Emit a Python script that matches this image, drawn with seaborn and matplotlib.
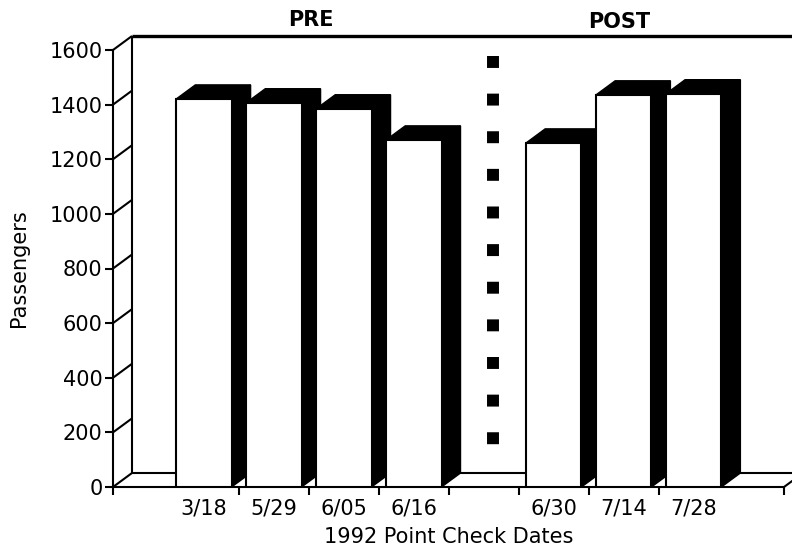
import numpy as np
import pandas as pd
import matplotlib
matplotlib.use("Agg")
import matplotlib.pyplot as plt
import seaborn as sns
from matplotlib.patches import Polygon
from matplotlib.lines import Line2D
from matplotlib.transforms import IdentityTransform

# Passenger counts at each point check
dates = ["3/18", "5/29", "6/05", "6/16", "6/30", "7/14", "7/28"]
passengers = [1421, 1407, 1385, 1271, 1260, 1436, 1440]
# category slots along the x axis (blank slot separates the two periods)
slots = ["3/18", "5/29", "6/05", "6/16", "", "6/30", "7/14", "7/28"]
period_labels = ["PRE", "POST"]
y_ticks = [0, 200, 400, 600, 800, 1000, 1200, 1400, 1600]

sns.set_theme(style="ticks")
plt.rcParams["font.family"] = ["DejaVu Sans"]

W, H = 792, 551
fig = plt.figure(figsize=(W / 100, H / 100), dpi=100, facecolor="white")
ax = fig.add_axes([113 / W, 64 / H, 671 / W, 437 / H])

df = pd.DataFrame({"date": dates, "passengers": passengers})
sns.barplot(data=df, x="date", y="passengers", order=slots, color="white",
            saturation=1, width=0.79, edgecolor="black", linewidth=1.5,
            errorbar=None, ax=ax)

X0, X1 = -1.3, 8.29
ax.set_xlim(X0, X1)
ax.set_ylim(0, 1600)
ax.set_facecolor("white")

# depth of the pseudo-3D box, in pixels
DX, DY = 19, 14
LW = 1.5

sns.despine(ax=ax)
for side in ("left", "bottom"):
    ax.spines[side].set_linewidth(LW)
    ax.spines[side].set_color("black")

ax.set_yticks(y_ticks)
ax.tick_params(axis="y", direction="out", length=6, width=LW, pad=1.5,
               labelsize=15, colors="black")
pos = [slots.index(d) for d in dates]
ax.set_xticks(pos, dates)
ax.set_xticks([X0] + [p + 0.5 for p in range(len(slots) - 1)] + [X1], minor=True)
ax.tick_params(axis="x", which="major", length=0, pad=8.5, labelsize=15, colors="black")
ax.tick_params(axis="x", which="minor", direction="out", length=5.5, width=LW,
               bottom=True, colors="black")

ax.set_xlabel("1992 Point Check Dates", fontsize=15, color="black")
ax.xaxis.set_label_coords(0.5, -0.092)
ax.set_ylabel("Passengers", fontsize=15, color="black")
ax.yaxis.set_label_coords(-0.125, 0.5)

fig.canvas.draw()
T = ax.transData
ident = IdentityTransform()


def disp(x, y):
    return T.transform((x, y))


def seg(p, q, lw=LW, z=1.5):
    ax.add_line(Line2D([p[0], q[0]], [p[1], q[1]], color="black", lw=lw,
                       transform=ident, clip_on=False, zorder=z,
                       solid_capstyle="butt"))


# walls and floor of the box
for v in y_ticks:
    a = disp(X0, v)
    seg(a, (a[0] + DX, a[1] + DY))
bl = disp(X0, 0)
tl = disp(X0, 1600)
seg((bl[0] + DX, bl[1] + DY), (tl[0] + DX, tl[1] + DY))
seg((tl[0] + DX, tl[1] + DY), (W + 40, tl[1] + DY), lw=2.4)
seg((bl[0] + DX, bl[1] + DY), (W + 40, bl[1] + DY))
br = disp(X1, 0)
seg(br, (br[0] + DX, br[1] + DY))

# extruded bars: side and top faces behind each front face
bars = [p for p in ax.patches if np.isfinite(p.get_height()) and p.get_height() > 0]
bars.sort(key=lambda p: p.get_x())
for k, p in enumerate(bars):
    x, w, h = p.get_x(), p.get_width(), p.get_height()
    xl, y0 = disp(x, 0)
    xr, yt = disp(x + w, h)
    side = [(xr, y0), (xr, yt), (xr + DX, yt + DY), (xr + DX, y0 + DY)]
    top = [(xl, yt), (xr, yt), (xr + DX, yt + DY), (xl + DX, yt + DY)]
    for poly in (side, top):
        ax.add_patch(Polygon(poly, closed=True, facecolor="black", edgecolor="black",
                             lw=1.0, transform=ident, clip_on=False, zorder=3 + 2 * k))
    p.set_zorder(4 + 2 * k)
    p.set_linewidth(LW)

# dotted divider between the two periods
gap = slots.index("")
a = disp(gap, 1553)
b = disp(gap, 125)
ax.add_line(Line2D([a[0] + DX / 2, b[0] + DX / 2], [a[1] + DY / 2, b[1] + DY / 2],
                   color="black", lw=8.6, dashes=(1, 2.15), dash_capstyle="butt",
                   transform=ident, clip_on=False, zorder=2))

# period headings
fig.text(311 / W, 1 - 20 / H, period_labels[0], ha="center", va="center",
         fontsize=15, fontweight="bold", color="black")
fig.text(619 / W, 1 - 22 / H, period_labels[1], ha="center", va="center",
         fontsize=15, fontweight="bold", color="black")

fig.savefig("out.png", dpi=100, facecolor="white")
